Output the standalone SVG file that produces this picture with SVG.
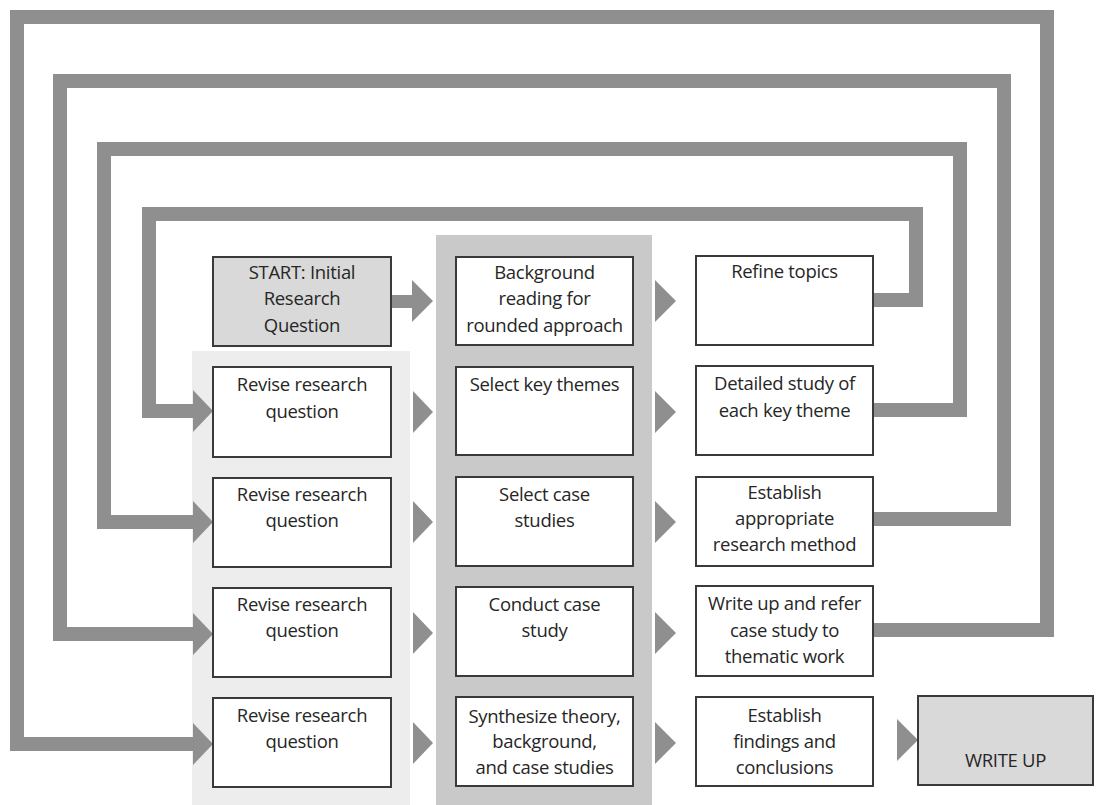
<svg xmlns="http://www.w3.org/2000/svg" width="1104" height="805" viewBox="0 0 1104 805">
<style>
.box{fill:#ffffff;stroke:#3a3a3a;stroke-width:2}
.gbox{fill:#d9d9d9;stroke:#3a3a3a;stroke-width:2}
.t{font-family:"Open Sans","Liberation Sans",Arial,sans-serif;font-size:18.5px;fill:#262626;text-anchor:middle;letter-spacing:-0.3px}
.loop{fill:none;stroke:#8f8f8f;stroke-width:14;stroke-linejoin:miter}
.ah{fill:#8f8f8f}
</style>
<rect width="1104" height="805" fill="#ffffff"/>
<!-- background panels -->
<rect x="192" y="351" width="218" height="454" fill="#ededed"/>
<rect x="436" y="235" width="216" height="570" fill="#c9c9c9"/>

<g id="connectors">
  <path class="loop" d="M873 630 H1047 V17 H17 V744 H193"/>
  <path class="loop" d="M873 519 H1004 V81 H60 V634 H193"/>
  <path class="loop" d="M873 410 H960 V149 H104 V522 H193"/>
  <path class="loop" d="M873 300 H916 V214 H149 V411 H193"/>
  <polygon class="ah" points="193,390 213,411 193,432"/>
  <polygon class="ah" points="193,501 213,522 193,543"/>
  <polygon class="ah" points="193,613 213,634 193,655"/>
  <polygon class="ah" points="193,723 213,744 193,765"/>
  <!-- start to background -->
  <rect class="ah" x="392" y="295" width="22" height="13"/>
  <polygon class="ah" points="412,280 433,301 412,322"/>
  <!-- col1 to col2 -->
  <polygon class="ah" points="413,391 433,412 413,433"/>
  <polygon class="ah" points="413,501 433,522 413,543"/>
  <polygon class="ah" points="413,612 433,633 413,654"/>
  <polygon class="ah" points="413,722 433,743 413,764"/>
  <!-- col2 to col3 -->
  <polygon class="ah" points="655,280 676,301 655,322"/>
  <polygon class="ah" points="655,391 676,412 655,433"/>
  <polygon class="ah" points="655,501 676,522 655,543"/>
  <polygon class="ah" points="655,612 676,633 655,654"/>
  <polygon class="ah" points="655,722 676,743 655,764"/>
  <!-- to write up -->
  <polygon class="ah" points="897,719 918,740 897,761"/>
</g>

<g id="start"><rect class="gbox" x="213" y="257" width="178" height="89"/>
<text class="t" x="302" y="279">START: Initial</text><text class="t" x="302" y="305">Research</text><text class="t" x="302" y="332">Question</text></g>
<g id="background"><rect class="box" x="456" y="257" width="177" height="88"/>
<text class="t" x="544.5" y="279">Background</text><text class="t" x="544.5" y="305">reading for</text><text class="t" x="544.5" y="332">rounded approach</text></g>
<g id="refine"><rect class="box" x="696" y="256" width="177" height="89"/>
<text class="t" x="784.5" y="278">Refine topics</text></g>

<g id="revise1"><rect class="box" x="213" y="367" width="178" height="90"/>
<text class="t" x="302" y="391">Revise research</text><text class="t" x="302" y="418">question</text></g>
<g id="themes"><rect class="box" x="456" y="367" width="177" height="88"/>
<text class="t" x="544.5" y="391">Select key themes</text></g>
<g id="detailed"><rect class="box" x="696" y="366" width="177" height="89"/>
<text class="t" x="784.5" y="390">Detailed study of</text><text class="t" x="784.5" y="417">each key theme</text></g>

<g id="revise2"><rect class="box" x="213" y="478" width="178" height="89"/>
<text class="t" x="302" y="501">Revise research</text><text class="t" x="302" y="527">question</text></g>
<g id="cases"><rect class="box" x="456" y="477" width="177" height="89"/>
<text class="t" x="544.5" y="501">Select case</text><text class="t" x="544.5" y="527">studies</text></g>
<g id="method"><rect class="box" x="696" y="477" width="177" height="89"/>
<text class="t" x="784.5" y="499">Establish</text><text class="t" x="784.5" y="525">appropriate</text><text class="t" x="784.5" y="551">research method</text></g>

<g id="revise3"><rect class="box" x="213" y="588" width="178" height="89"/>
<text class="t" x="302" y="611">Revise research</text><text class="t" x="302" y="637">question</text></g>
<g id="conduct"><rect class="box" x="456" y="587" width="177" height="89"/>
<text class="t" x="544.5" y="611">Conduct case</text><text class="t" x="544.5" y="637">study</text></g>
<g id="writeupcase"><rect class="box" x="696" y="586" width="177" height="90"/>
<text class="t" x="784.5" y="610">Write up and refer</text><text class="t" x="784.5" y="637">case study to</text><text class="t" x="784.5" y="663">thematic work</text></g>

<g id="revise4"><rect class="box" x="213" y="698" width="178" height="89"/>
<text class="t" x="302" y="722">Revise research</text><text class="t" x="302" y="748">question</text></g>
<g id="synth"><rect class="box" x="456" y="697" width="177" height="89"/>
<text class="t" x="544.5" y="723">Synthesize theory,</text><text class="t" x="544.5" y="748">background,</text><text class="t" x="544.5" y="774">and case studies</text></g>
<g id="findings"><rect class="box" x="696" y="697" width="177" height="89"/>
<text class="t" x="784.5" y="722">Establish</text><text class="t" x="784.5" y="748">findings and</text><text class="t" x="784.5" y="774">conclusions</text></g>
<g id="writeup"><rect class="gbox" x="918" y="696" width="175" height="89"/>
<text class="t" x="1005.5" y="767">WRITE UP</text></g>
</svg>
